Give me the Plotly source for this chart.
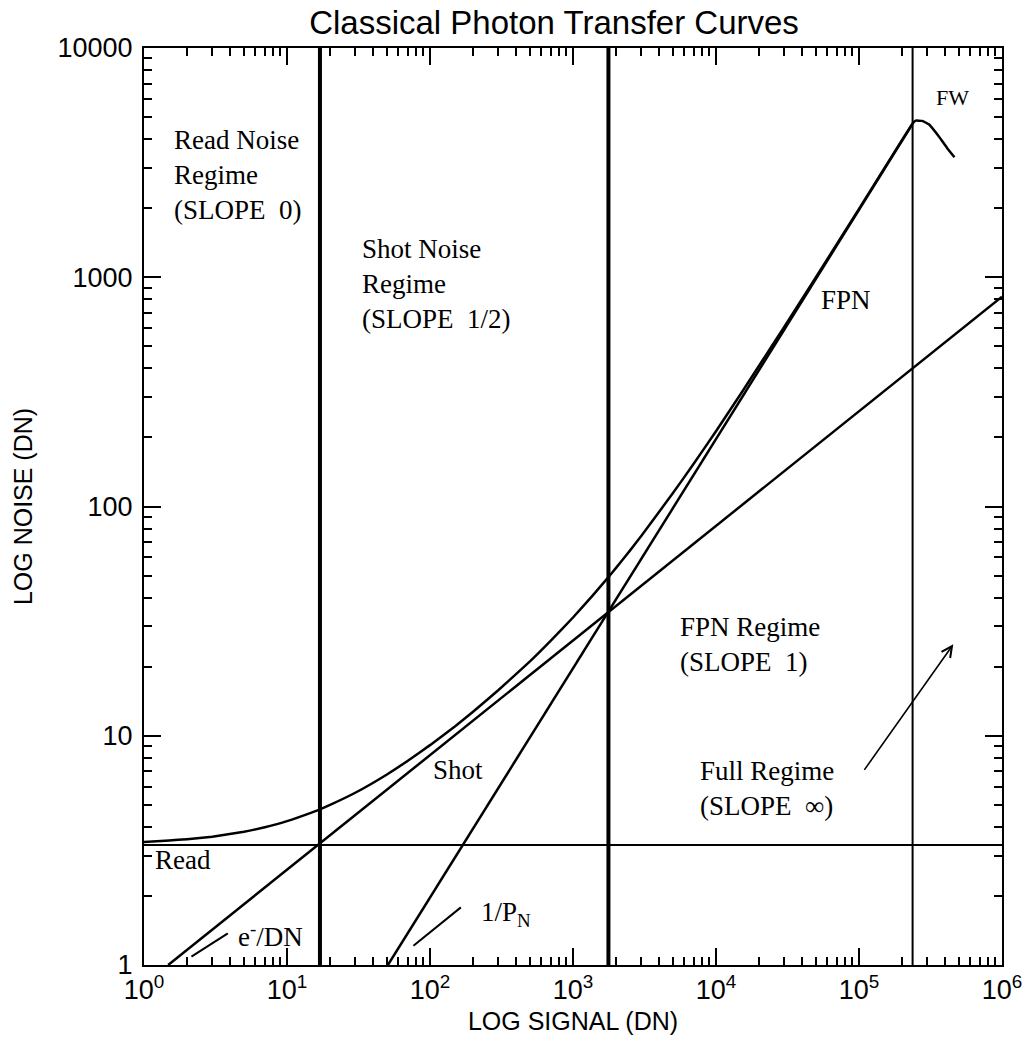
import plotly.graph_objects as go

# ---------------- data ----------------
total_signal = [1, 1.5, 2, 3, 5, 7, 10, 15, 17, 20, 30, 50, 70, 100, 150, 200, 300, 500, 700, 1000, 1400,
                1769, 2000, 2500, 3000, 5000, 7000, 1e4, 1.5e4, 2e4, 3e4, 5e4, 1e5, 2.37e5,
                2.49e5, 2.77e5, 3.08e5, 3.62e5, 4.14e5, 4.65e5]
total_noise = [3.44, 3.49, 3.54, 3.63, 3.81, 3.99, 4.24, 4.63, 4.77, 4.99, 5.64, 6.78, 7.78, 9.1, 11.0,
               12.73, 15.79, 21.1, 26.0, 32.8, 41.5, 49.2, 54.0, 64.2, 74.4, 114.4, 154, 213, 312, 411,
               607.5, 1001, 1986, 4683, 4820, 4808, 4645, 4110, 3656, 3340]

read_signal = [1, 1e6]
read_noise = [3.34, 3.34]

shot_signal = [1.476, 1e6]
shot_noise = [1, 823]

fpn_signal = [50.8, 2.37e5]
fpn_noise = [1, 4665]

regime_bounds = [17, 1769, 2.37e5]
regime_widths = [4, 4, 2]
y_span = [1, 10000]

x_tickvals = [1, 10, 100, 1000, 1e4, 1e5, 1e6]
x_ticktext = ["10<sup>0</sup>", "10<sup>1</sup>", "10<sup>2</sup>", "10<sup>3</sup>",
              "10<sup>4</sup>", "10<sup>5</sup>", "10<sup>6</sup>"]
y_tickvals = [1, 10, 100, 1000, 10000]
y_ticktext = ["1", "10", "100", "1000", "10000"]

# ---------------- figure ----------------
W, H = 1034, 1043
L, R, T, B = 144, 1007, 48, 966

fig = go.Figure()
for xb, wb in zip(regime_bounds, regime_widths):
    fig.add_trace(go.Scatter(x=[xb, xb], y=y_span, mode="lines",
                             line=dict(color="black", width=wb), hoverinfo="skip"))
fig.add_trace(go.Scatter(x=read_signal, y=read_noise, mode="lines", line=dict(color="black", width=2)))
fig.add_trace(go.Scatter(x=shot_signal, y=shot_noise, mode="lines", line=dict(color="black", width=2.5)))
fig.add_trace(go.Scatter(x=fpn_signal, y=fpn_noise, mode="lines", line=dict(color="black", width=2.5)))
fig.add_trace(go.Scatter(x=total_signal, y=total_noise, mode="lines",
                         line=dict(color="black", width=2.5, shape="spline", smoothing=0.3)))


def px(xp):
    return (xp - L) / (R - L)


def py(yp):
    return (B - yp) / (B - T)


serif = "Liberation Serif, Times New Roman, serif"
sans = "Liberation Sans, Arial, sans-serif"
NB = "\u00a0 "

texts = [
    ("Read Noise<br>Regime<br>(SLOPE" + NB + "0)", 172, 175, 27),
    ("Shot Noise<br>Regime<br>(SLOPE" + NB + "1/2)", 361, 284, 27),
    ("FPN", 823, 300, 27),
    ("FPN Regime<br>(SLOPE" + NB + "1)", 681, 645, 27),
    ("Full Regime<br>(SLOPE" + NB + "\u221e)", 701, 789, 27),
    ("Shot", 433, 771, 27),
    ("Read", 153, 861, 27),
    ("e<sup>-</sup>/DN", 237, 936, 27),
    ("1/P<sub>N</sub>", 481, 915, 27),
    ("FW", 939, 98, 22),
]
annotations = []
for t, xp, yp, fs in texts:
    annotations.append(dict(text=t, x=px(xp), y=py(yp), xref="paper", yref="paper",
                            xanchor="left", yanchor="middle", align="left", showarrow=False,
                            font=dict(family=serif, size=fs, color="black")))
# Full regime arrow
annotations.append(dict(text="", x=px(958), y=py(645), xref="paper", yref="paper",
                        ax=868 - 958, ay=772 - 645, showarrow=True, arrowhead=5,
                        arrowsize=1.3, arrowwidth=1.6, arrowcolor="black", standoff=0))

shapes = [
    dict(type="line", xref="paper", yref="paper", x0=px(191.7), y0=py(957.7), x1=px(228.3), y1=py(934.3),
         line=dict(color="black", width=2)),
    dict(type="line", xref="paper", yref="paper", x0=px(415), y0=py(946.7), x1=px(462.7), y1=py(908.3),
         line=dict(color="black", width=2)),
]

minor_x = [m * 10 ** e for e in range(0, 6) for m in range(2, 10)]
minor_y = [m * 10 ** e for e in range(0, 4) for m in range(2, 10)]

axis_common = dict(showline=True, linecolor="black", linewidth=2, mirror="ticks", ticks="inside",
                   ticklen=17, tickwidth=2, tickcolor="black", showgrid=False, zeroline=False,
                   tickfont=dict(family=sans, size=27, color="black"))

fig.update_layout(
    width=W, height=H,
    margin=dict(l=L, r=W - R, t=T, b=H - B),
    paper_bgcolor="white", plot_bgcolor="white",
    showlegend=False,
    title=dict(text="Classical Photon Transfer Curves", x=554 / W, xref="container", xanchor="center",
               y=1 - 22 / H, yref="container", yanchor="middle",
               font=dict(family=sans, size=33, color="black")),
    xaxis=dict(type="log", range=[0, 6], tickmode="array", tickvals=x_tickvals, ticktext=x_ticktext,
               title=dict(text="LOG SIGNAL (DN)", font=dict(family=sans, size=25, color="black"), standoff=8),
               minor=dict(tickmode="array", tickvals=minor_x, ticks="inside", ticklen=8, tickwidth=1.5,
                          tickcolor="black", showgrid=False),
               **axis_common),
    yaxis=dict(type="log", range=[0, 4], tickmode="array", tickvals=y_tickvals, ticktext=y_ticktext,
               ticklabelstandoff=4,
               title=dict(text="LOG NOISE (DN)", font=dict(family=sans, size=25, color="black"), standoff=18),
               minor=dict(tickmode="array", tickvals=minor_y, ticks="inside", ticklen=8, tickwidth=1.5,
                          tickcolor="black", showgrid=False),
               **axis_common),
    annotations=annotations,
    shapes=shapes,
)

fig.write_html("out.html", config={"displayModeBar": False},
               post_script="document.body.style.margin='0px';document.body.style.overflow='hidden';")
